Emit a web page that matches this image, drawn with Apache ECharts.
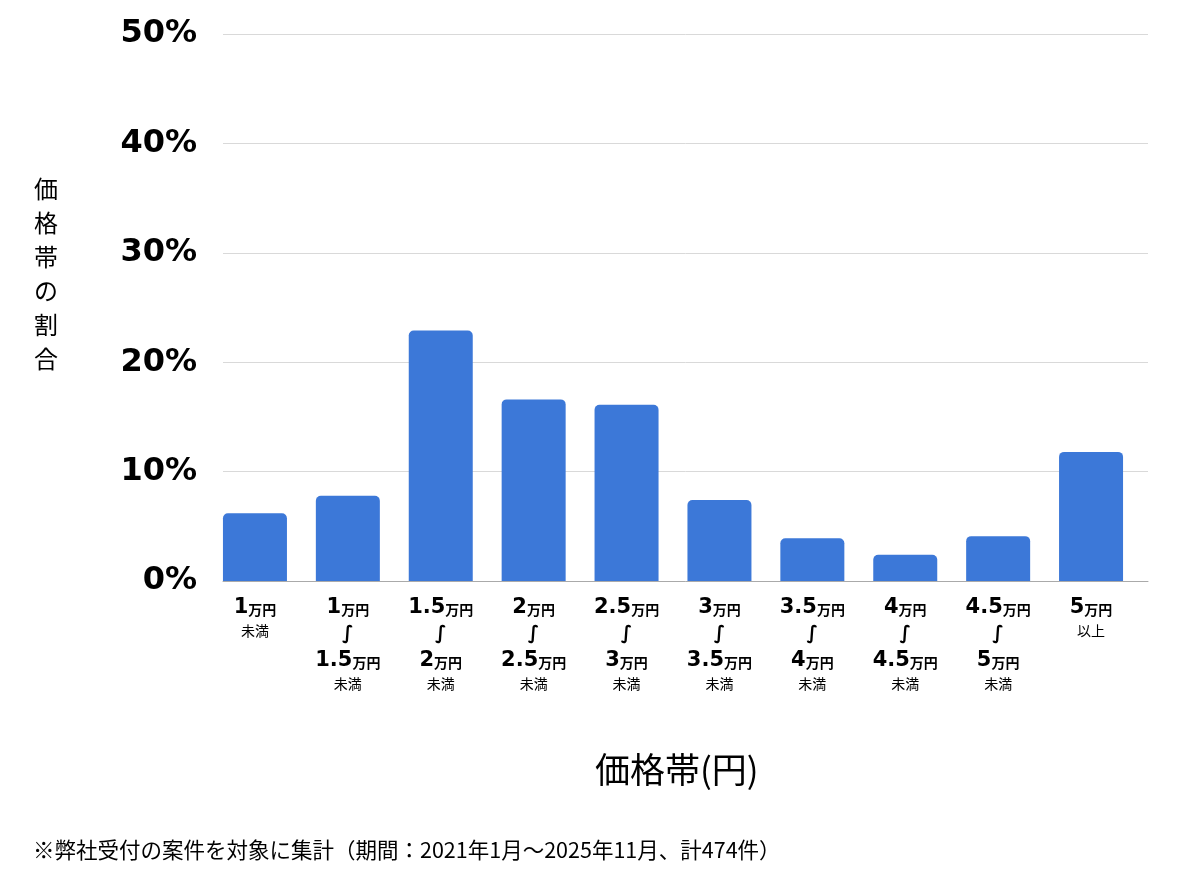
<!DOCTYPE html>
<html>
<head>
<meta charset="utf-8">
<script src="https://cdn.jsdelivr.net/npm/echarts@6/dist/echarts.min.js"></script>
<style>
html,body{margin:0;padding:0;background:#fff;}
#main{width:1200px;height:874px;}
</style>
</head>
<body>
<div id="main"></div>
<script>
const categories = [
  "1万円未満",
  "1万円～1.5万円未満",
  "1.5万円～2万円未満",
  "2万円～2.5万円未満",
  "2.5万円～3万円未満",
  "3万円～3.5万円未満",
  "3.5万円～4万円未満",
  "4万円～4.5万円未満",
  "4.5万円～5万円未満",
  "5万円以上"
];
const shares = [6.2, 7.8, 22.9, 16.6, 16.1, 7.4, 3.9, 2.4, 4.1, 11.8];
const yTicks = [0, 10, 20, 30, 40, 50];
const yTitle = "価格帯の割合";
const xTitle = "価格帯(円)";
const footnote = "※弊社受付の案件を対象に集計（期間：2021年1月～2025年11月、計474件）";

const jp = '"Noto Sans CJK JP", "Noto Sans", sans-serif';
const num = '"DejaVu Sans", sans-serif';

function priceRich(s) {
  const m = s.match(/^([\d.]+)万円$/);
  return '{n|' + m[1] + '}{u|万円}';
}
function fmtLabel(v) {
  if (v.indexOf('～') >= 0) {
    const p = v.split('～');
    const lo = p[0];
    const hi = p[1].replace('未満', '');
    return priceRich(lo) + '\n{w|∫}\n' + priceRich(hi) + '\n{s|未満}';
  }
  if (v.endsWith('未満')) return priceRich(v.replace('未満', '')) + '\n{s|未満}';
  if (v.endsWith('以上')) return priceRich(v.replace('以上', '')) + '\n{s|以上}';
  return v;
}

const chart = echarts.init(document.getElementById('main'));
chart.setOption({
  animation: false,
  backgroundColor: '#fff',
  grid: [
    {left: 223, right: 52, top: 34, bottom: 293},
    {left: 208.5, right: 62.5, top: 34, bottom: 293}
  ],
  xAxis: [
    {
      gridIndex: 0, type: 'category', data: categories,
      axisLine: {show: true, lineStyle: {color: '#aaaaaa', width: 1}},
      axisTick: {show: false}, axisLabel: {show: false}, splitLine: {show: false}
    },
    {
      gridIndex: 1, type: 'category', data: categories,
      axisLine: {show: false}, axisTick: {show: false}, splitLine: {show: false},
      axisLabel: {
        interval: 0, margin: 14, color: '#000',
        formatter: fmtLabel,
        rich: {
          n: {fontFamily: num, fontWeight: 'bold', fontSize: 21, lineHeight: 26, color: '#000'},
          u: {fontFamily: jp, fontWeight: 'bold', fontSize: 14, lineHeight: 20, color: '#000', padding: [3, 0, 0, 0]},
          w: {fontFamily: num, fontWeight: 'bold', fontSize: 19, lineHeight: 27, color: '#000'},
          s: {fontFamily: jp, fontSize: 14, lineHeight: 20, color: '#000'}
        }
      }
    }
  ],
  yAxis: [
    {
      gridIndex: 0, type: 'value', min: yTicks[0], max: yTicks[yTicks.length - 1], interval: 10,
      axisLine: {show: false}, axisTick: {show: false},
      splitLine: {lineStyle: {color: '#d9d9d9', width: 1}},
      axisLabel: {
        margin: 26, color: '#000', fontFamily: num, fontWeight: 'bold', fontSize: 32,
        formatter: '{value}%'
      }
    },
    {
      gridIndex: 1, type: 'value', min: yTicks[0], max: yTicks[yTicks.length - 1], interval: 10,
      show: false, splitLine: {show: false}
    }
  ],
  series: [{
    type: 'bar', xAxisIndex: 1, yAxisIndex: 1, data: shares, barWidth: 64,
    itemStyle: {color: '#3c78d8', borderRadius: [5, 5, 0, 0]}
  }],
  graphic: [
    {
      type: 'text', left: 34, top: 172,
      style: {text: yTitle.split('').join('\n'), font: '24px ' + jp, fill: '#000', lineHeight: 34, align: 'center'}
    },
    {
      type: 'text', left: 595, top: 752,
      style: {text: xTitle, font: '35px ' + jp, fill: '#000'}
    },
    {
      type: 'text', left: 33, top: 839,
      style: {text: footnote, font: '21.5px ' + jp, fill: '#000'}
    }
  ]
});
</script>
</body>
</html>
